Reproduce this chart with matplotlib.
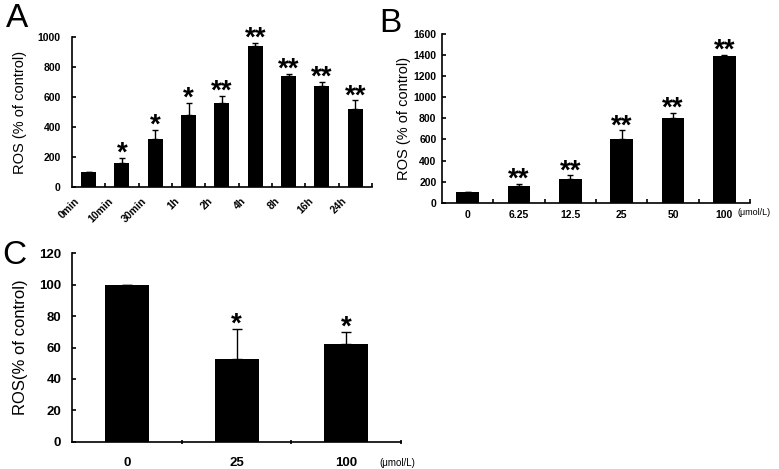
import numpy as np
import matplotlib
matplotlib.use("Agg")
import matplotlib.pyplot as plt
from matplotlib.transforms import ScaledTranslation

plt.rcParams['font.family'] = ['Liberation Sans', 'DejaVu Sans']

# panel A: time course
time_labels = ['0min', '10min', '30min', '1h', '2h', '4h', '8h', '16h', '24h']
time_mean = [100, 165, 320, 480, 560, 945, 742, 677, 522]
time_sd = [0, 33, 63, 85, 50, 20, 13, 27, 57]
time_sig = ['', '*', '*', '*', '**', '**', '**', '**', '**']

# panel B: dose response
dose_labels = ['0', '6.25', '12.5', '25', '50', '100']
dose_mean = [100, 162, 222, 600, 800, 1390]
dose_sd = [0, 20, 36, 85, 53, 8]
dose_sig = ['', '**', '**', '**', '**', '**']

# panel C: inhibition
inh_labels = ['0', '25', '100']
inh_mean = [100, 52.5, 62]
inh_sd = [0, 19.5, 8]
inh_sig = ['', '*', '*']


def bar_panel(ax, labels, mean, sd, sig, width, ymax, ystep, tick_fs, lab_fs,
              capsize, star_fs, tickdir='in', xpad=4, ypad=6):
    n = len(labels)
    x = np.arange(n) + 0.5
    mean = np.asarray(mean, float)
    sd = np.asarray(sd, float)
    ax.bar(x, mean, width=width, color='black', zorder=2)
    ax.errorbar(x, mean, yerr=[np.zeros(n), sd], fmt='none', ecolor='black',
                elinewidth=1.0, capsize=capsize, capthick=1.0, zorder=3)
    for xi, top, s in zip(x, mean + sd, sig):
        if s:
            ax.annotate(s, (xi, top), xytext=(0, -2), textcoords='offset points',
                        ha='center', va='baseline', fontsize=star_fs,
                        fontweight='bold')
    ax.set_xlim(0, n)
    ax.set_ylim(0, ymax)
    ax.set_yticks(np.arange(0, ymax + ystep / 2, ystep))
    ax.set_xticks(x)
    ax.set_xticklabels(labels)
    ax.set_xticks(np.arange(1, n + 1), minor=True)
    for sp in ['top', 'right']:
        ax.spines[sp].set_visible(False)
    for sp in ['left', 'bottom']:
        ax.spines[sp].set_linewidth(1.2)
    ax.tick_params(axis='x', which='major', length=0, labelsize=lab_fs, pad=xpad)
    ax.tick_params(axis='x', which='minor', direction=tickdir, length=3, width=1.2)
    ax.tick_params(axis='y', direction='in', length=3, width=1.2,
                   labelsize=tick_fs, pad=ypad)
    for t in ax.get_xticklabels() + ax.get_yticklabels():
        t.set_fontweight('bold')


fig = plt.figure(figsize=(7.79, 4.69), dpi=100)

axA = fig.add_axes([0.0924, 0.6006, 0.3851, 0.3198])
bar_panel(axA, time_labels, time_mean, time_sd, time_sig, 0.45, 1000, 200,
          7.5, 7.5, 2.5, 20, xpad=6, ypad=8)
off = ScaledTranslation(-7 / 100, 0, fig.dpi_scale_trans)
for t in axA.get_xticklabels():
    t.set_rotation(45)
    t.set_ha('right')
    t.set_va('top')
    t.set_transform(t.get_transform() + off)
axA.set_ylabel('ROS (% of control)', fontsize=10.5, labelpad=8)

axB = fig.add_axes([0.5674, 0.5678, 0.3954, 0.3597])
bar_panel(axB, dose_labels, dose_mean, dose_sd, dose_sig, 0.44, 1600, 200,
          7.5, 7.5, 2.5, 20, xpad=5, ypad=4)
axB.set_ylabel('ROS (% of control)', fontsize=10.5, labelpad=2)
axB.text(0.958, -0.058, '(\u03bcmol/L)', transform=axB.transAxes, ha='left',
         va='center', fontsize=6.5)

axC = fig.add_axes([0.0928, 0.0582, 0.4220, 0.4017])
bar_panel(axC, inh_labels, inh_mean, inh_sd, inh_sig, 0.40, 120, 20,
          9.5, 9.5, 3.6, 20, tickdir='inout', xpad=11, ypad=8)
axC.set_ylabel('ROS(% of control)', fontsize=12, labelpad=8)
axC.text(0.935, -0.085, '(\u03bcmol/L)', transform=axC.transAxes, ha='left',
         va='top', fontsize=7)

fig.text(0.008, 0.942, 'A', fontsize=24)
fig.text(0.487, 0.932, 'B', fontsize=24)
fig.text(0.003, 0.437, 'C', fontsize=24)

fig.savefig('out.png', dpi=100)
